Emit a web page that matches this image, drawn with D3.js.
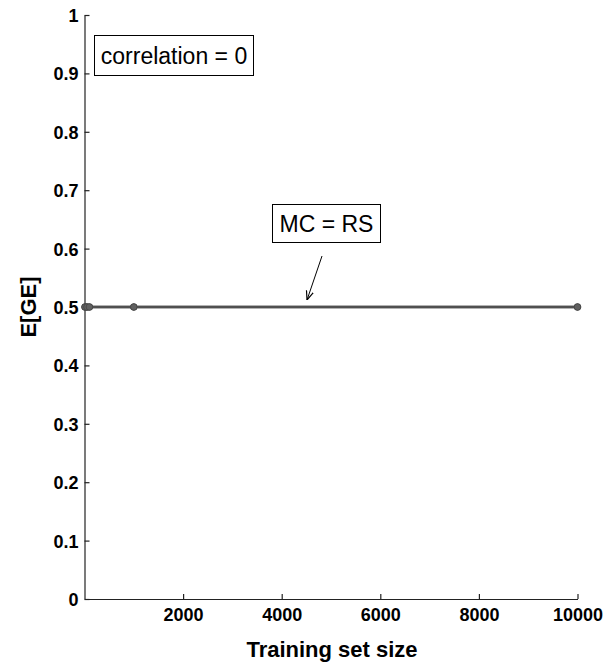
<!DOCTYPE html>
<html><head><meta charset="utf-8">
<script src="https://cdn.jsdelivr.net/npm/d3@7"></script>
<style>body{margin:0;background:#fff}svg{display:block}</style>
</head><body>
<script>
const trainSizes = [10, 50, 100, 1000, 10000];
const mcValues = [0.5, 0.5, 0.5, 0.5, 0.5];
const rsValues = [0.5, 0.5, 0.5, 0.5, 0.5];
const xTicks = [2000, 4000, 6000, 8000, 10000];
const yTicks = [0, 0.1, 0.2, 0.3, 0.4, 0.5, 0.6, 0.7, 0.8, 0.9, 1];

const W = 608, H = 666;
const svg = d3.select("body").append("svg").attr("width", W).attr("height", H);
const x = d3.scaleLinear().domain([0, 10000]).range([84.5, 577.5]);
const y = d3.scaleLinear().domain([0, 1]).range([599, 15]);
const font = "'Liberation Sans', Arial, Helvetica, sans-serif";

// axes
const gx = svg.append("g").attr("transform", `translate(0,${y(0)})`)
  .call(d3.axisBottom(x).tickValues(xTicks).tickFormat(d3.format("d")).tickSizeInner(-5).tickSizeOuter(0).tickPadding(9));
const gy = svg.append("g").attr("transform", `translate(${x(0)},0)`)
  .call(d3.axisLeft(y).tickValues(yTicks).tickFormat(d => d === 0 ? "0" : d === 1 ? "1" : d3.format(".1f")(d)).tickSizeInner(-5).tickSizeOuter(0).tickPadding(6));
[gx, gy].forEach(g => {
  g.select(".domain").attr("stroke", "#222").attr("stroke-width", 1.2);
  g.selectAll(".tick line").attr("stroke", "#222").attr("stroke-width", 1.2);
  g.selectAll("text").attr("font-family", font).attr("font-weight", "bold").attr("font-size", 18).attr("fill", "#000");
});
gy.selectAll(".tick text").attr("dy", "0.36em");

// labels
svg.append("text").attr("x", 332).attr("y", 657).attr("text-anchor", "middle")
  .attr("font-family", font).attr("font-weight", "bold").attr("font-size", 22).text("Training set size");
svg.append("text").attr("transform", `translate(36,${y(0.5)}) rotate(-90)`).attr("text-anchor", "middle")
  .attr("font-family", font).attr("font-weight", "bold").attr("font-size", 22).text("E[GE]");

// lines
const line = d3.line().x((d, i) => x(trainSizes[i])).y(d => y(d));
[mcValues, rsValues].forEach(vals => {
  svg.append("path").datum(vals).attr("d", line).attr("fill", "none").attr("stroke", "#505050").attr("stroke-width", 2.6);
  svg.selectAll(null).data(vals).enter().append("circle")
    .attr("cx", (d, i) => x(trainSizes[i])).attr("cy", d => y(d)).attr("r", 3.3)
    .attr("fill", "#606060").attr("stroke", "#444").attr("stroke-width", 0.8);
});

// annotation boxes
function box(x0, y0, w, h, txt) {
  svg.append("rect").attr("x", x0).attr("y", y0).attr("width", w).attr("height", h)
    .attr("fill", "#fff").attr("stroke", "#000").attr("stroke-width", 1);
  svg.append("text").attr("x", x0 + w / 2).attr("y", y0 + h / 2).attr("dy", "0.36em").attr("text-anchor", "middle")
    .attr("font-family", font).attr("font-size", 23).text(txt);
}
box(94.5, 35.5, 159, 40, "correlation = 0");
box(272.5, 204.5, 108, 38, "MC = RS");

// arrow
svg.append("defs").append("marker").attr("id", "ah").attr("viewBox", "0 0 10 10").attr("refX", 10).attr("refY", 5)
  .attr("markerWidth", 9).attr("markerHeight", 9).attr("markerUnits", "userSpaceOnUse").attr("orient", "auto")
  .append("path").attr("d", "M0,1 L10,5 L0,9").attr("fill", "none").attr("stroke", "#000").attr("stroke-width", 1.3);
svg.append("line").attr("x1", 322).attr("y1", 256).attr("x2", 307).attr("y2", 300)
  .attr("stroke", "#000").attr("stroke-width", 1).attr("marker-end", "url(#ah)");
</script>
</body></html>
